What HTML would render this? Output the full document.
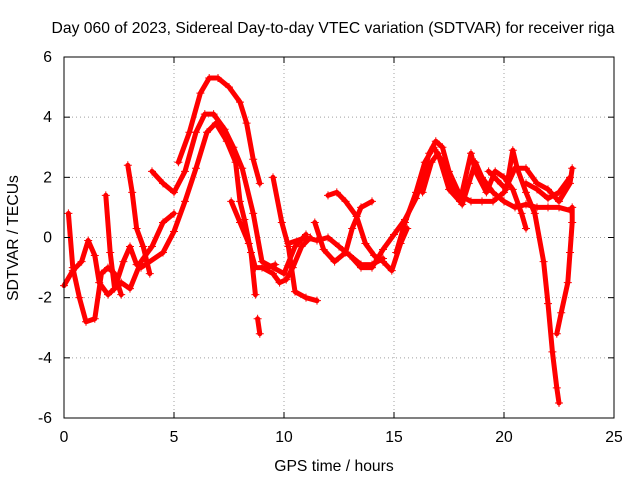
<!DOCTYPE html>
<html><head><meta charset="utf-8"><style>
body{margin:0;background:#fff}
svg text{font-family:"Liberation Sans",sans-serif;font-size:15.7px;fill:#000}
</style></head><body>
<svg width="640" height="480">
<rect x="0" y="0" width="640" height="480" fill="#fff"/>
<g id="grid"></g>
<g id="series"></g>
<rect x="64" y="57" width="550" height="361" fill="none" stroke="#000" stroke-width="1"/>
<g id="ticks"></g>
<text x="333" y="33" text-anchor="middle">Day 060 of 2023, Sidereal Day-to-day VTEC variation (SDTVAR) for receiver riga</text>
<text x="334" y="471" text-anchor="middle">GPS time / hours</text>
<text transform="translate(18,238) rotate(-90)" text-anchor="middle">SDTVAR / TECUs</text>
</svg>
<script>
const xTicks=[0,5,10,15,20,25];
const yTicks=[-6,-4,-2,0,2,4,6];
const tracks=[
[[5.2,2.5],[5.7,3.5],[6.2,4.8],[6.6,5.3],[7,5.3],[7.5,5.0],[8,4.5],[8.3,3.8],[8.6,2.6],[8.9,1.8]],
[[4.0,2.2],[4.5,1.8],[5,1.5],[5.5,2.2],[6,3.5],[6.4,4.1],[6.8,4.1],[7.3,3.6],[7.7,3.0],[8.1,2.3],[8.6,0.8],[9,-0.8],[9.5,-1.0],[10,-1.2],[10.5,-0.3],[11,0.1]],
[[3.5,-1.0],[4.5,-0.5],[5,0.2],[5.5,1.2],[6,2.3],[6.5,3.5],[6.9,3.8],[7.4,3.2],[7.8,2.5],[8.0,1.2],[8.2,0.6],[8.5,-0.5],[8.7,-1.9]],
[[7.6,1.2],[8,0.5],[8.4,-0.2],[8.7,-1.0],[9.2,-1.0],[9.6,-0.9]],
[[0,-1.6],[0.4,-1.1],[0.8,-0.8],[1.1,-0.1],[1.4,-0.6],[1.6,-1.5],[2,-1.9],[2.6,-1.5],[3,-1.7],[3.5,-0.8],[4,-0.3],[4.5,0.5],[5,0.8]],
[[0.2,0.8],[0.4,-1.0],[0.7,-2.0],[1.0,-2.8],[1.4,-2.7],[1.7,-1.2],[2.0,-1.0],[2.3,-1.2],[2.6,-1.9]],
[[1.9,1.4],[2.1,-0.5],[2.3,-1.7],[2.7,-0.8],[3.0,-0.3],[3.3,-0.9]],
[[2.9,2.4],[3.1,1.5],[3.3,0.3],[3.6,-0.3],[3.9,-1.2]],
[[8.8,-2.7],[8.9,-3.2]],
[[9.0,-1.0],[9.5,-1.2],[9.8,-1.5],[10.1,-1.4],[10.4,-1.0],[10.8,-0.3],[11.2,0]],
[[9.5,2.0],[9.9,0.5],[10.2,-0.3],[10.5,-1.8],[11,-2.0],[11.5,-2.1]],
[[10.2,-0.2],[11,0],[11.5,-0.1],[12,0],[12.5,-0.3],[13,-0.6],[13.5,-0.9],[14,-0.9],[14.5,-0.7]],
[[11.4,0.5],[11.8,-0.4],[12.3,-0.8],[12.8,-0.5],[13.1,0.3],[13.5,1.0],[14,1.2]],
[[12.0,1.4],[12.4,1.5],[12.8,1.2],[13.3,0.7],[13.7,-0.2],[14.1,-0.6],[14.5,-0.8],[14.9,-1.1],[15.3,-0.2],[15.6,0.3]],
[[13.0,-0.6],[13.5,-1.0],[14,-1.0],[14.5,-0.4],[15,0.1],[15.5,0.6],[16,1.3],[16.3,2.0],[16.6,2.8],[16.9,3.2],[17.2,3.0],[17.5,2.2],[18,1.4],[18.5,1.2],[19,1.2],[19.5,1.2],[20,1.5],[20.5,2.3],[21,2.3],[21.5,1.8],[22,1.6],[22.5,1.2],[23,1.8],[23.1,2.3]],
[[15.1,-0.5],[15.5,0.5],[16,1.5],[16.4,2.5],[16.8,3.0],[17.3,2.4],[17.7,1.6],[18.1,1.1],[18.4,1.8],[18.7,2.5],[19,2.0],[19.5,1.5],[20,1.2],[20.5,1.0],[21,1.1],[21.5,1.0],[22,1.0],[22.5,1.0],[23,0.9]],
[[16.3,1.5],[16.7,2.5],[17,2.8],[17.5,1.6],[18,1.2],[18.5,2.8],[18.7,2.2],[19.2,1.5],[19.6,2.2],[20,2.0],[20.4,1.6],[20.8,0.8],[21.0,0.3]],
[[19.3,2.2],[19.7,1.9],[20.1,1.6],[20.4,2.9],[20.6,2.3],[21,1.5],[21.4,0.8],[21.8,-0.8],[22,-2.2],[22.2,-3.8],[22.4,-5.0],[22.5,-5.5]],
[[22.4,-3.2],[22.6,-2.5],[22.9,-1.5],[23.0,-0.5],[23.1,0.5],[23.1,1.0]],
[[21.0,1.8],[21.5,1.6],[22,1.3],[22.5,1.5],[23.0,2.0]]
];
const NS="http://www.w3.org/2000/svg";
function xs(v){return 64+(v-0)/25*550;}
function ys(v){return 418-(v+6)/12*361;}
function mk(tag,attrs,parent){const e=document.createElementNS(NS,tag);for(const k in attrs)e.setAttribute(k,attrs[k]);parent.appendChild(e);return e;}
const grid=document.getElementById('grid'),ticks=document.getElementById('ticks'),ser=document.getElementById('series');
xTicks.forEach(t=>{
  const x=xs(t);
  if(t>0&&t<25){const g=mk('line',{x1:x,x2:x,y1:57,y2:418,stroke:'#a0a0a0','stroke-dasharray':'1,3'},grid);
  
  }
  mk('line',{x1:x,x2:x,y1:418,y2:412,stroke:'#000'},ticks);
  mk('line',{x1:x,x2:x,y1:57,y2:63,stroke:'#000'},ticks);
  const l=mk('text',{x:x,y:442,'text-anchor':'middle'},ticks);l.textContent=t;
  
  
});
yTicks.forEach(t=>{
  const y=ys(t);
  if(t>-6&&t<6){const g=mk('line',{x1:64,x2:614,y1:y,y2:y,stroke:'#a0a0a0','stroke-dasharray':'1,3'},grid);
  
  }
  mk('line',{x1:64,x2:70,y1:y,y2:y,stroke:'#000'},ticks);
  mk('line',{x1:614,x2:608,y1:y,y2:y,stroke:'#000'},ticks);
  const l=mk('text',{x:52,y:y+5,'text-anchor':'end'},ticks);l.textContent=t;
  
  
});
tracks.forEach((tr,i)=>{
  const p=mk('polyline',{points:tr.map(d=>xs(d[0])+','+ys(d[1])).join(' '),fill:'none',stroke:'#f00','stroke-width':5,'stroke-linejoin':'round','stroke-linecap':'round'},ser);
  
  
  tr.forEach(d=>{
    const x=xs(d[0]),y=ys(d[1]);
    const m=mk('path',{d:`M${x-4},${y}H${x+4}M${x},${y-4}V${y+4}`,stroke:'#f00','stroke-width':1},ser);
    
    
  });
});
</script>
</body></html>
